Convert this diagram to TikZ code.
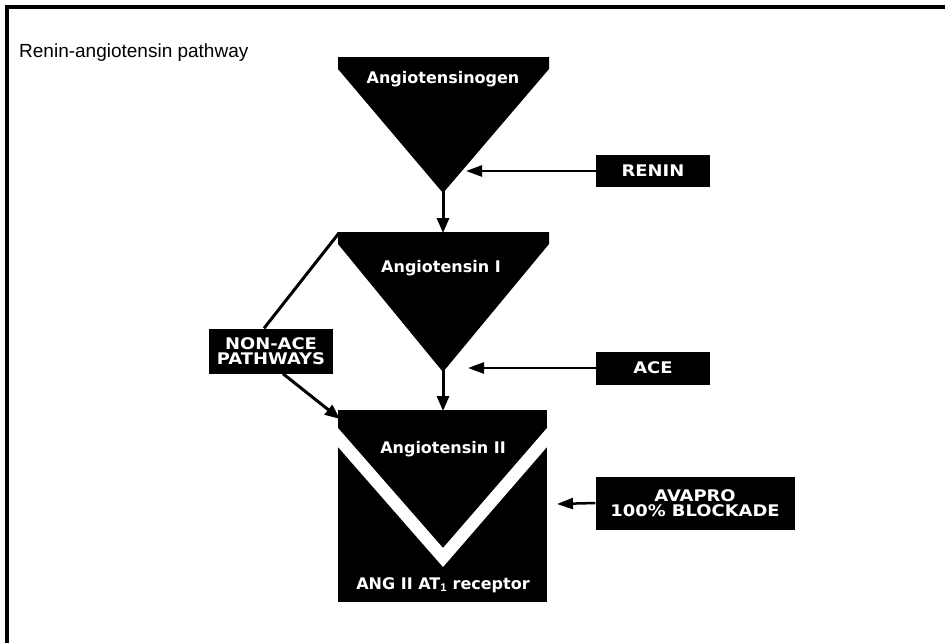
\documentclass[tikz,border=0pt]{standalone}
\usepackage{fontspec}
\setmainfont{Liberation Sans}
\newfontfamily\labfont{DejaVu Sans}
\newfontfamily\boxfont{DejaVu Sans}[FakeStretch=1.12]
\usetikzlibrary{arrows.meta}
\begin{document}
\begin{tikzpicture}[x=1pt,y=-1pt,
  tri/.style={fill=black},
  lbl/.style={text=white,font=\labfont\fontsize{16}{17}\selectfont\bfseries,inner sep=0pt},
  bbox/.style={fill=black,text=white,font=\boxfont\fontsize{16}{15}\selectfont\bfseries,inner sep=0pt,align=center},
  conn/.style={line width=3pt,-{Triangle[length=15pt,width=12pt]}},
  hconn/.style={line width=2.5pt,-{Triangle[length=16pt,width=11pt]}},
  plain/.style={line width=3pt}]
\useasboundingbox (0,0) rectangle (945,643);
% frame
\draw[line width=3.5pt] (7,643) -- (7,7) -- (945,7);
% title
\node[anchor=west,font=\fontsize{19}{21}\selectfont,inner sep=0pt] (title) at (19,53) {Renin-angiotensin pathway};
% triangle 1
\fill[tri] (338,57) -- (549,57) -- (549,69) -- (443,193) -- (338,69) -- cycle;
\coordinate (t1apex) at (443,190);
\node[lbl] (agen) at (443,79) {Angiotensinogen};
% triangle 2
\fill[tri] (338,232) -- (549,232) -- (549,244) -- (443,372) -- (338,244) -- cycle;
\coordinate (t2top) at (443,233);
\coordinate (t2apex) at (443,369);
\coordinate (t2left) at (339,233);
\node[lbl] (a1) at (441,268) {Angiotensin I};
% receptor block
\fill[black] (338,410) rectangle (547,602);
\fill[white] (338,428) -- (443,548) -- (547,428) -- (547,447) -- (443,567) -- (338,447) -- cycle;
\coordinate (t3top) at (443,411);
\coordinate (t3left) at (340,419);
\node[lbl] (a2) at (443,449) {Angiotensin II};
\node[lbl] (rec) at (443,585) {ANG II AT$_{\mathbf{1}}$ receptor};
% stems
\draw[conn] (t1apex) -- (t2top);
\draw[conn] (t2apex) -- (t3top);
% side boxes
\node[bbox,minimum width=114pt,minimum height=32pt] (renin) at (653,171) {RENIN};
\node[bbox,minimum width=114pt,minimum height=33pt] (ace) at (653,368) {ACE};
\node[bbox,minimum width=199pt,minimum height=53pt] (avapro) at (695,503) {AVAPRO\\100\% BLOCKADE};
\node[bbox,minimum width=124pt,minimum height=45pt] (nonace) at (271,351) {NON-ACE\\PATHWAYS};
\coordinate (reninTip) at (466,171);
\coordinate (aceTip) at (468,368);
\coordinate (avaTip) at (557,504);
\draw[hconn] (renin.west) -- (reninTip);
\draw[hconn] (ace.west) -- (aceTip);
\draw[hconn] (avapro.west) -- (avaTip);
% non-ACE lines
\draw[plain] (t2left) -- (nonace.north -| 264,0);
\draw[conn] (nonace.south -| 283,0) -- (t3left);
\end{tikzpicture}
\end{document}
